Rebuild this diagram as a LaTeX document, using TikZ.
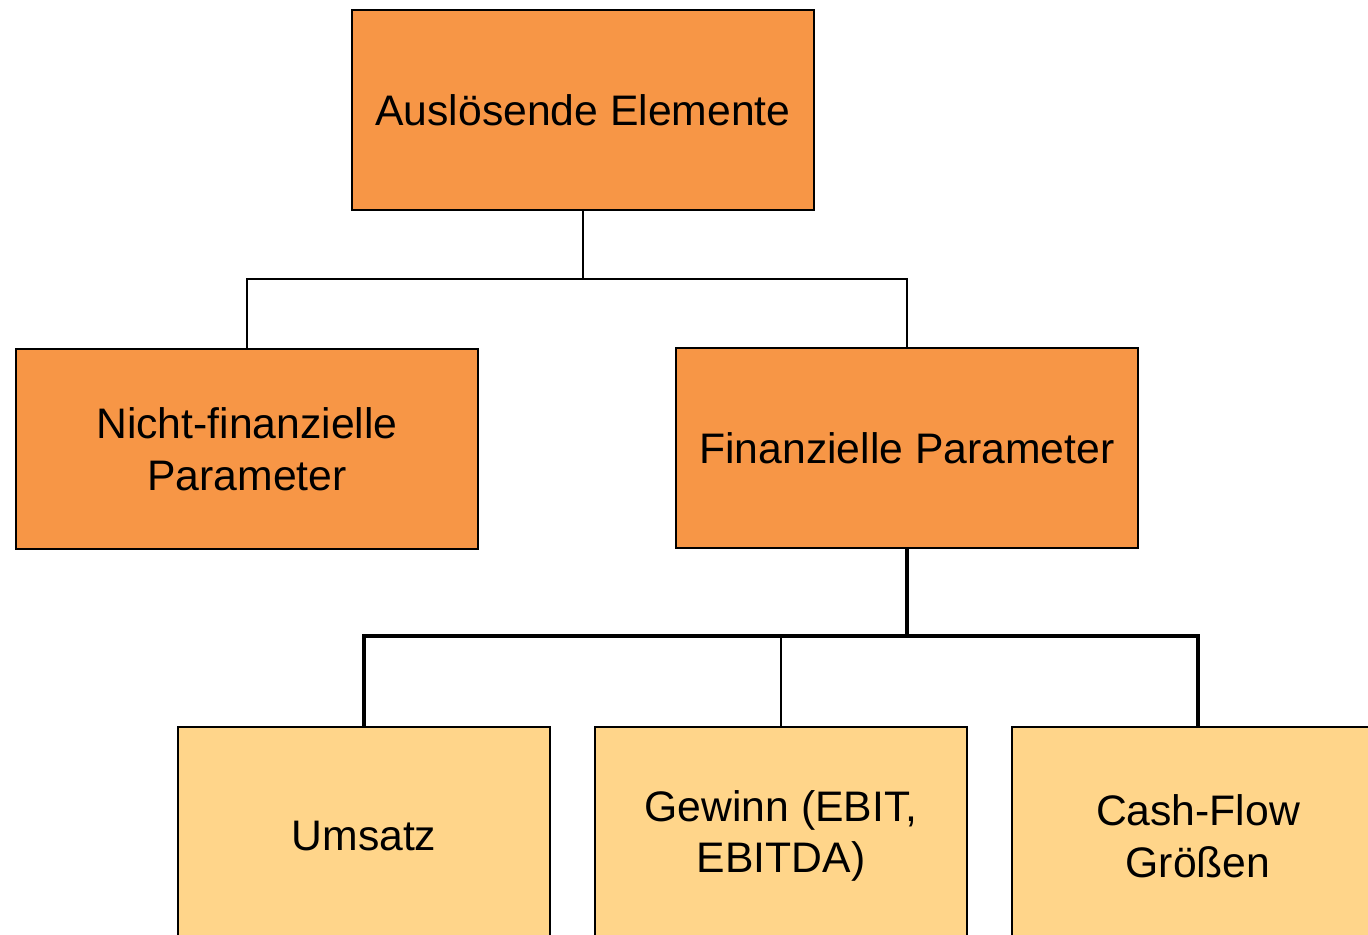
\documentclass[tikz,border=0pt]{standalone}
\usepackage{fontspec}
\setmainfont{Liberation Sans}
\definecolor{orangebox}{HTML}{F79646}
\definecolor{lightbox}{HTML}{FFD58A}

\begin{document}
\begin{tikzpicture}[x=0.02cm,y=-0.02cm]

\tikzset{box/.style={draw, line width=1.1pt, inner sep=0pt, align=center,
    font=\fontsize{24.3}{29.5}\selectfont}};
\tikzset{upper/.style={box, fill=orangebox, minimum width=9.24cm, minimum height=4cm}};
\tikzset{lower/.style={box, fill=lightbox, minimum width=7.44cm, minimum height=4.36cm}};
\tikzset{thinline/.style={line width=0.85pt}};
\tikzset{thickline/.style={line width=2.2pt}};

\useasboundingbox (0,0) rectangle (1368,935);
\clip (0,0) rectangle (1368,935);

% first level
\node[upper] (top) at (583,110) {Auslösende Elemente};
\node[upper] (nicht) at (247,449) {Nicht-finanzielle\\Parameter};
\node[upper] (fin) at (907,448) {Finanzielle Parameter};

% second level
\node[lower] (umsatz) at (364,836) {Umsatz};
\node[lower] (gewinn) at (781,836) {Gewinn (EBIT,\\EBITDA)};
\node[lower] (cash) at (1198,836) {Cash-Flow\\Größen};

\coordinate (j1) at (583,279);
\draw[thinline] (top.south) -- (j1) -| (nicht.north);
\draw[thinline] (j1) -| (fin.north);

\coordinate (j2) at (907,636);
\draw[thickline] (fin.south) -- (j2) -| (umsatz.north);
\draw[thickline] (j2) -| (cash.north);
\draw[thinline] (gewinn.north) -- (gewinn.north |- j2);

\end{tikzpicture}
\end{document}
